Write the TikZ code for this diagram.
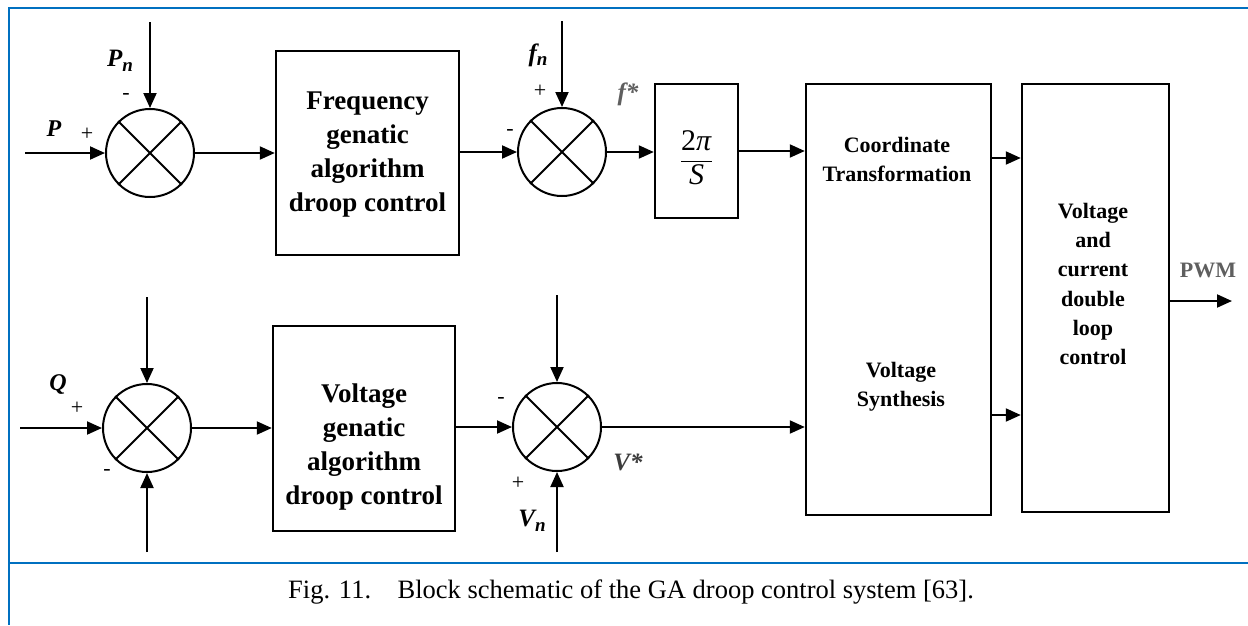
\documentclass[tikz,border=0pt]{standalone}
\usepackage{fontspec}
\usepackage{amsmath}
\setmainfont{Liberation Serif}
\usetikzlibrary{arrows.meta}
\definecolor{frameblue}{RGB}{0,112,192}
\definecolor{labgray}{RGB}{95,95,95}
\definecolor{darkgray2}{RGB}{60,60,60}
\begin{document}
\begin{tikzpicture}[x=1pt,y=-1pt,line width=2pt,
  arr/.style={-{Triangle[length=15pt,width=13pt]}},
  sumj/.style={draw,circle,minimum size=88pt,inner sep=0pt},
  blk/.style={draw,rectangle,inner sep=0pt,line width=2.4pt},
  gatext/.style={font=\fontsize{27}{34}\selectfont\bfseries,align=center,inner sep=0pt},
  smtext/.style={font=\fontsize{22}{29}\selectfont\bfseries,align=center,inner sep=0pt},
  var/.style={font=\fontsize{25}{25}\selectfont\bfseries\itshape,inner sep=0pt},
  sgn/.style={font=\fontsize{22}{22}\selectfont,inner sep=0pt},
  frame/.style={draw=frameblue,line width=2.5pt}]
\useasboundingbox (0,0) rectangle (1248,625);
\fill[white] (0,0) rectangle (1248,625);
% frame
\coordinate (fTL) at (9,8);
\coordinate (fTR) at (1248,8);
\coordinate (fBL) at (9,625);
\coordinate (sL) at (9,563);
\coordinate (sR) at (1248,563);
\draw[frame] (fTR) -- (fTL) -- (fBL);
\draw[frame] (sL) -- (sR);

% summing junctions
\node[sumj] (s1) at (150,153) {};
\node[sumj] (s2) at (562,152) {};
\node[sumj] (s3) at (147,428) {};
\node[sumj] (s4) at (557,427) {};
\foreach \s in {s1,s2,s3,s4}{
  \draw (\s.45) -- (\s.225) (\s.135) -- (\s.315);
}

% blocks
\node[blk,minimum width=183pt,minimum height=204pt] (fbox) at (367.5,153) {};
\node[gatext] (fboxt) at (367.5,155) {Frequency\\genatic\\algorithm\\droop control};
\node[blk,minimum width=182pt,minimum height=205pt] (vbox) at (364,428.5) {};
\node[gatext] (vboxt) at (364,447) {Voltage\\genatic\\algorithm\\droop control};
\node[blk,minimum width=83pt,minimum height=134pt] (int) at (696.5,151) {};
\node[inner sep=0pt,font=\fontsize{30}{30}\selectfont] (intt) at (696.5,158) {$\displaystyle\frac{\text{2\textit{π}}}{\text{\textit{S}}}$};
\node[blk,minimum width=185pt,minimum height=431pt] (cbox) at (898.5,299.5) {};
\node[smtext] (cboxt1) at (897,159) {Coordinate\\Transformation};
\node[smtext] (cboxt2) at (901,387) {Voltage\\Synthesis};
\node[blk,minimum width=147pt,minimum height=428pt] (vc) at (1095.5,298) {};
\node[smtext,font=\fontsize{22}{29.2}\selectfont\bfseries] (vct) at (1093,284) {Voltage\\and\\current\\double\\loop\\control};

% free ends
\coordinate (inP) at (25,153);
\coordinate (inPn) at (150,22);
\coordinate (infn) at (562,21);
\coordinate (inQ) at (20,428);
\coordinate (in3t) at (147,297);
\coordinate (in3b) at (147,552);
\coordinate (in4t) at (557,295);
\coordinate (in4b) at (557,552);
\coordinate (pwm) at (1232,301);

% connectors
\draw[arr] (inP) -- (s1.west);
\draw[arr] (inPn) -- (s1.north);
\draw[arr] (s1.east) -- (fbox.west |- s1.east);
\draw[arr] (fbox.east |- s2.west) -- (s2.west);
\draw[arr] (infn) -- (s2.north);
\draw[arr] (s2.east) -- (int.west |- s2.east);
\draw[arr] (int.east) -- (cbox.west |- int.east);
\draw[arr] (inQ) -- (s3.west);
\draw[arr] (in3t) -- (s3.north);
\draw[arr] (in3b) -- (s3.south);
\draw[arr] (s3.east) -- (vbox.west |- s3.east);
\draw[arr] (vbox.east |- s4.west) -- (s4.west);
\draw[arr] (in4t) -- (s4.north);
\draw[arr] (in4b) -- (s4.south);
\draw[arr] (s4.east) -- (cbox.west |- s4.east);
\coordinate (c1) at (991,158);
\coordinate (c2) at (991,415);
\draw[arr] (cbox.east |- c1) -- (vc.west |- c1);
\draw[arr] (cbox.east |- c2) -- (vc.west |- c2);
\draw[arr] (vc.east |- pwm) -- (pwm);

% labels
\node[var,font=\fontsize{24}{24}\selectfont\bfseries\itshape] (lP) at (54,129) {P};
\node[sgn] (lPp) at (87,134) {+};
\node[var] (lPn) at (120,61) {P\raisebox{-5pt}{\fontsize{19}{19}\selectfont n}};
\node[sgn] (lPnm) at (126,96) {-};
\node[var] (lfn) at (538,55) {f\raisebox{-4pt}{\fontsize{19}{19}\selectfont n}};
\node[sgn] (lfnp) at (540,91) {+};
\node[sgn] (ls2m) at (510,132) {-};
\node[font=\fontsize{25}{25}\selectfont\bfseries\itshape,text=labgray,inner sep=0pt] (lfs) at (628,94) {f*};
\node[var,font=\fontsize{24}{24}\selectfont\bfseries\itshape] (lQ) at (58,384) {Q};
\node[sgn] (lQp) at (77,408) {+};
\node[sgn] (ls3m) at (107,472) {-};
\node[sgn] (ls4m) at (501,400) {-};
\node[sgn] (ls4p) at (518,483) {+};
\node[var] (lVn) at (532,521) {V\raisebox{-5pt}{\fontsize{19}{19}\selectfont n}};
\node[var,text=darkgray2] (lVs) at (628,462) {V*};
\node[font=\fontsize{22}{22}\selectfont\bfseries,text=labgray,inner sep=0pt] (lpwm) at (1208,270) {PWM};

% caption
\node[font=\fontsize{26.5}{30}\selectfont,inner sep=0pt] (cap) at (631,592) {Fig. 11.\hspace{1em}Block schematic of the GA droop control system [63].};
\end{tikzpicture}
\end{document}
